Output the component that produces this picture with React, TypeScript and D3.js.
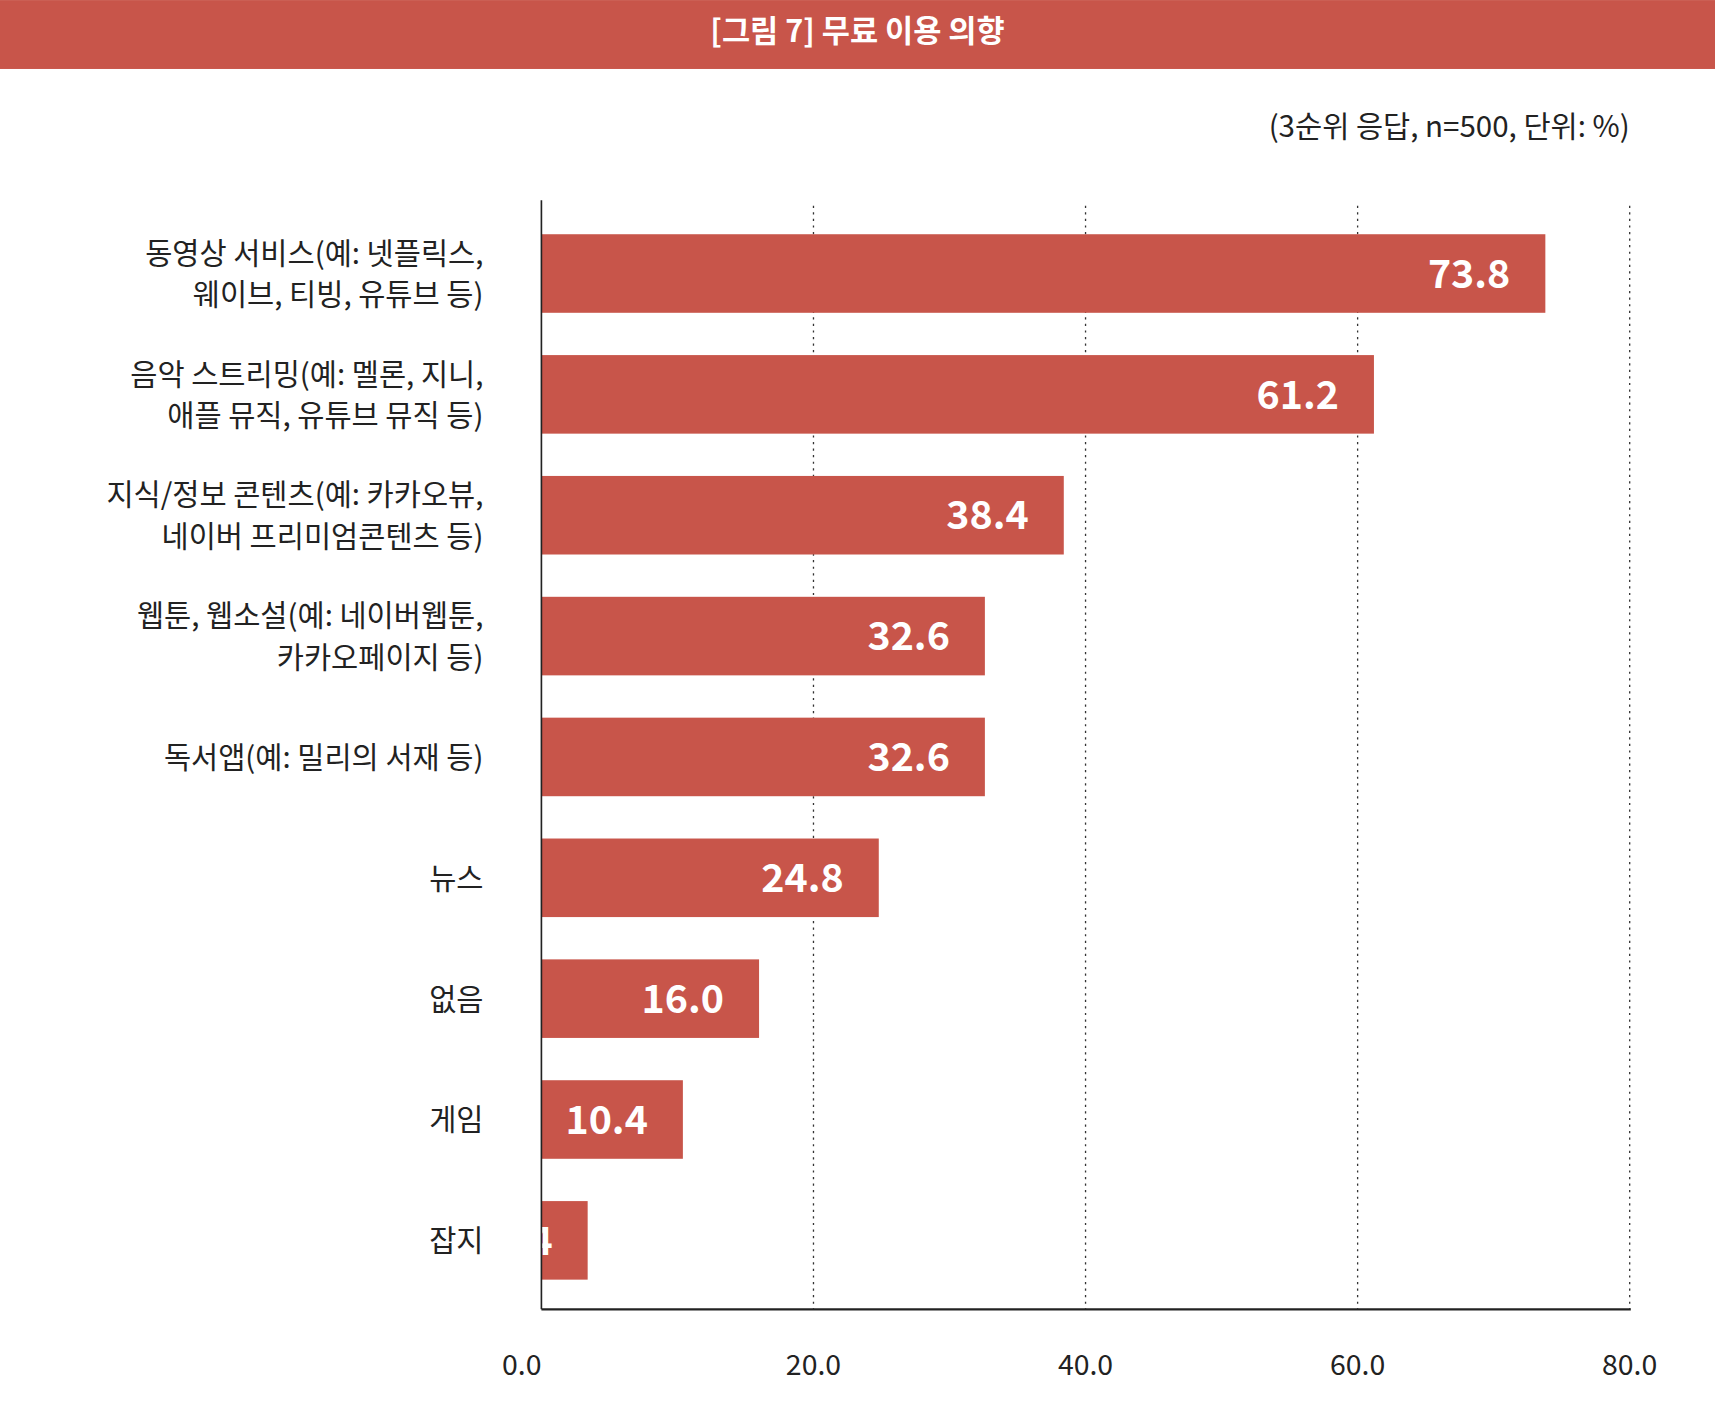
import React from "react";
import * as d3 from "d3";

const categories = [
  ["동영상 서비스(예: 넷플릭스,", "웨이브, 티빙, 유튜브 등)"],
  ["음악 스트리밍(예: 멜론, 지니,", "애플 뮤직, 유튜브 뮤직 등)"],
  ["지식/정보 콘텐츠(예: 카카오뷰,", "네이버 프리미엄콘텐츠 등)"],
  ["웹툰, 웹소설(예: 네이버웹툰,", "카카오페이지 등)"],
  ["독서앱(예: 밀리의 서재 등)"],
  ["뉴스"],
  ["없음"],
  ["게임"],
  ["잡지"],
];
const values = [73.8, 61.2, 38.4, 32.6, 32.6, 24.8, 16.0, 10.4, 3.4];
const ticks = [0, 20, 40, 60, 80];
const RED = "#c8554a";
const FONT = "'Noto Sans CJK KR', 'Noto Sans', sans-serif";

export default function App() {
  const x = d3.scaleLinear().domain([0, 80]).range([495, 1490]);
  const y = d3.scaleBand<number>().domain(d3.range(values.length)).range([192, 1192]).paddingInner(0.35).paddingOuter(0.2);
  const bh = y.bandwidth();
  return (
    <svg width={1715} height={1422} viewBox="0 0 1568 1300" style={{ position: "absolute", left: 0, top: 0 }} fontFamily={FONT}>
      <rect x={0} y={0} width={1568} height={63} fill={RED} />
      <text x={784} y={38} textAnchor="middle" fill="#fff" fontSize={28} fontWeight={700}>[그림 7] 무료 이용 의향</text>
      <text x={1490} y={125} textAnchor="end" fill="#222" fontSize={27}>(3순위 응답, n=500, 단위: %)</text>
      {ticks.slice(1).map(t => (
        <line key={t} x1={x(t)} x2={x(t)} y1={188} y2={1197} stroke="#333" strokeWidth={1.2} strokeDasharray="2 4" />
      ))}
      {values.map((v, i) => {
        const y0 = y(i)!;
        const cy = y0 + bh / 2;
        const lines = categories[i];
        return (
          <g key={i}>
            <rect x={x(0)} y={y0} width={x(v) - x(0)} height={bh} fill={RED} />
            <text x={x(v) - 32} y={cy + 13} textAnchor="end" fill="#fff" fontSize={36} fontWeight={700}>{v.toFixed(1)}</text>
            {lines.map((l, j) => (
              <text key={j} x={442} y={cy + 10 + (j - (lines.length - 1) / 2) * 38} textAnchor="end" fill="#222" fontSize={27}>{l}</text>
            ))}
          </g>
        );
      })}
      <line x1={495} x2={495} y1={183} y2={1197} stroke="#222" strokeWidth={1.5} />
      <line x1={495} x2={1491} y1={1197} y2={1197} stroke="#222" strokeWidth={2} />
      {ticks.map(t => (
        <text key={t} x={x(t) - (t === 0 ? 18 : 0)} y={1257} textAnchor="middle" fill="#222" fontSize={26}>{t.toFixed(1)}</text>
      ))}
    </svg>
  );
}
